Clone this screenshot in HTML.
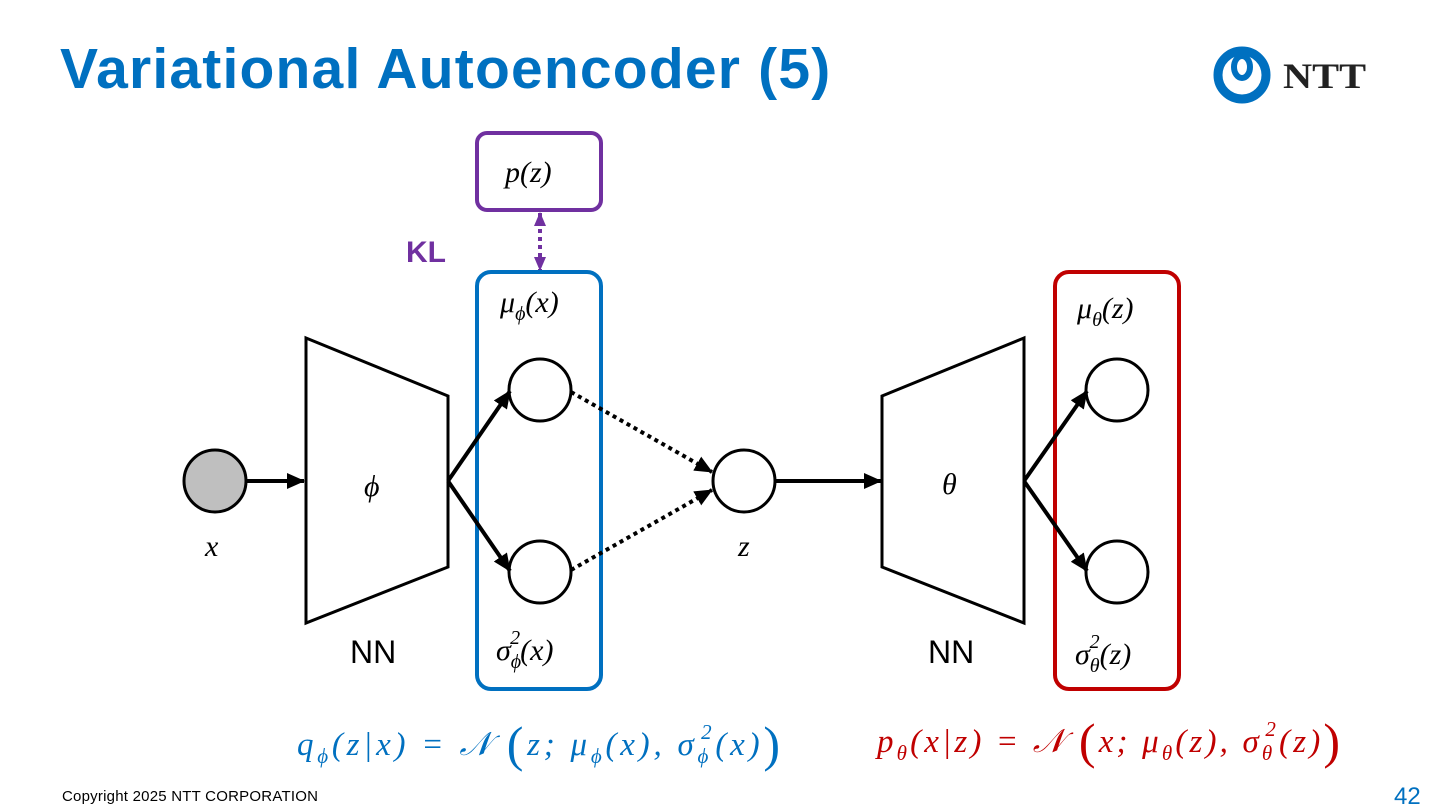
<!DOCTYPE html>
<html><head><meta charset="utf-8"><style>
body{margin:0;width:1440px;height:810px;background:#fff;overflow:hidden;position:relative;font-family:"Liberation Sans",sans-serif}
.t{position:absolute}
</style></head><body>
<div class="t" style="left:60px;top:36px;font-size:57px;font-weight:bold;color:#0070C0;letter-spacing:1.2px;white-space:nowrap">Variational Autoencoder (5)</div>
<svg width="1440" height="810" style="position:absolute;left:0;top:0">
<defs>
<marker id="a" markerWidth="18" markerHeight="16" refX="17" refY="8" orient="auto" markerUnits="userSpaceOnUse" viewBox="0 0 18 16"><path d="M0,0L18,8L0,16z" fill="#000"/></marker>
<marker id="b" markerWidth="14" markerHeight="12" refX="13" refY="6" orient="auto-start-reverse" markerUnits="userSpaceOnUse" viewBox="0 0 14 12"><path d="M0,0L14,6L0,12z" fill="#7030A0"/></marker>
</defs>
<!-- logo -->
<circle cx="1242" cy="75" r="24" fill="none" stroke="#0070C0" stroke-width="9"/>
<ellipse cx="1242" cy="67" rx="8" ry="11" fill="none" stroke="#0070C0" stroke-width="6"/>
<text x="1283" y="88" font-size="36" font-weight="bold" fill="#222" font-family="Liberation Serif" textLength="83" lengthAdjust="spacingAndGlyphs">NTT</text>
<!-- p(z) box -->
<rect x="477" y="133" width="124" height="77" rx="10" fill="none" stroke="#7030A0" stroke-width="4"/>
<line x1="540" y1="213" x2="540" y2="270" stroke="#7030A0" stroke-width="4" stroke-dasharray="4,4" marker-end="url(#b)" marker-start="url(#b)"/>
<rect x="477" y="272" width="124" height="417" rx="14" fill="none" stroke="#0070C0" stroke-width="4"/>
<rect x="1055" y="272" width="124" height="417" rx="14" fill="none" stroke="#C00000" stroke-width="4"/>
<!-- trapezoids -->
<polygon points="306,338 448,396 448,567 306,623" fill="#fff" stroke="#000" stroke-width="3"/>
<polygon points="1024,338 882,396 882,567 1024,623" fill="#fff" stroke="#000" stroke-width="3"/>
<circle cx="215" cy="481" r="31" fill="#BFBFBF" stroke="#000" stroke-width="3"/>
<circle cx="540" cy="390" r="31" fill="#fff" stroke="#000" stroke-width="3"/>
<circle cx="540" cy="572" r="31" fill="#fff" stroke="#000" stroke-width="3"/>
<circle cx="744" cy="481" r="31" fill="#fff" stroke="#000" stroke-width="3"/>
<circle cx="1117" cy="390" r="31" fill="#fff" stroke="#000" stroke-width="3"/>
<circle cx="1117" cy="572" r="31" fill="#fff" stroke="#000" stroke-width="3"/>
<g stroke="#000" stroke-width="4" fill="none">
<line x1="246" y1="481" x2="304" y2="481" marker-end="url(#a)"/>
<line x1="448" y1="481" x2="510" y2="391" marker-end="url(#a)"/>
<line x1="448" y1="481" x2="510" y2="571" marker-end="url(#a)"/>
<line x1="775" y1="481" x2="881" y2="481" marker-end="url(#a)"/>
<line x1="1024" y1="481" x2="1087" y2="391" marker-end="url(#a)"/>
<line x1="1024" y1="481" x2="1087" y2="571" marker-end="url(#a)"/>
<line x1="571" y1="392" x2="712" y2="472" stroke-dasharray="4,4" marker-end="url(#a)"/>
<line x1="571" y1="570" x2="712" y2="490" stroke-dasharray="4,4" marker-end="url(#a)"/>
</g>
<g font-family="Liberation Serif" font-style="italic" font-size="30" fill="#000">
<text x="505" y="182">p(z)</text>
<text x="500" y="312">μ<tspan font-size="20" dy="8">ϕ</tspan><tspan dy="-8">(x)</tspan></text>
<text x="496" y="660">σ<tspan font-size="20" dy="8">ϕ</tspan><tspan font-size="20" dx="-11" dy="-24">2</tspan><tspan dy="16">(x)</tspan></text>
<text x="1077" y="318">μ<tspan font-size="20" dy="8">θ</tspan><tspan dy="-8">(z)</tspan></text>
<text x="1075" y="664">σ<tspan font-size="20" dy="8">θ</tspan><tspan font-size="20" dx="-10" dy="-24">2</tspan><tspan dy="16">(z)</tspan></text>
<text x="364" y="496">ϕ</text>
<text x="942" y="494">θ</text>
<text x="205" y="556">x</text>
<text x="738" y="556">z</text>
</g>
<text x="406" y="262" font-size="30" font-weight="bold" fill="#7030A0">KL</text>
<text x="350" y="663" font-size="32" fill="#000">NN</text>
<text x="928" y="663" font-size="32" fill="#000">NN</text>
<g font-family="Liberation Serif" font-style="italic" font-size="33">
<text x="297" y="755" fill="#0070C0" textLength="483" lengthAdjust="spacing">q<tspan font-size="21" dy="8">ϕ</tspan><tspan dy="-8">(z|x) = 𝒩 </tspan><tspan font-size="50" font-style="normal" dy="6">(</tspan><tspan dy="-6">z; μ</tspan><tspan font-size="21" dy="8">ϕ</tspan><tspan dy="-8">(x), σ</tspan><tspan font-size="21" dy="8">ϕ</tspan><tspan font-size="21" dx="-11" dy="-24">2</tspan><tspan dy="16">(x)</tspan><tspan font-size="50" font-style="normal" dy="6">)</tspan></text>
<text x="877" y="752" fill="#C00000" textLength="463" lengthAdjust="spacing">p<tspan font-size="21" dy="8">θ</tspan><tspan dy="-8">(x|z) = 𝒩 </tspan><tspan font-size="50" font-style="normal" dy="6">(</tspan><tspan dy="-6">x; μ</tspan><tspan font-size="21" dy="8">θ</tspan><tspan dy="-8">(z), σ</tspan><tspan font-size="21" dy="8">θ</tspan><tspan font-size="21" dx="-10" dy="-24">2</tspan><tspan dy="16">(z)</tspan><tspan font-size="50" font-style="normal" dy="6">)</tspan></text>
</g>
<text x="62" y="801" font-size="15" fill="#000" textLength="256">Copyright 2025 NTT CORPORATION</text>
<text x="1394" y="804" font-size="24" fill="#0070C0">42</text>
</svg>
</body></html>
